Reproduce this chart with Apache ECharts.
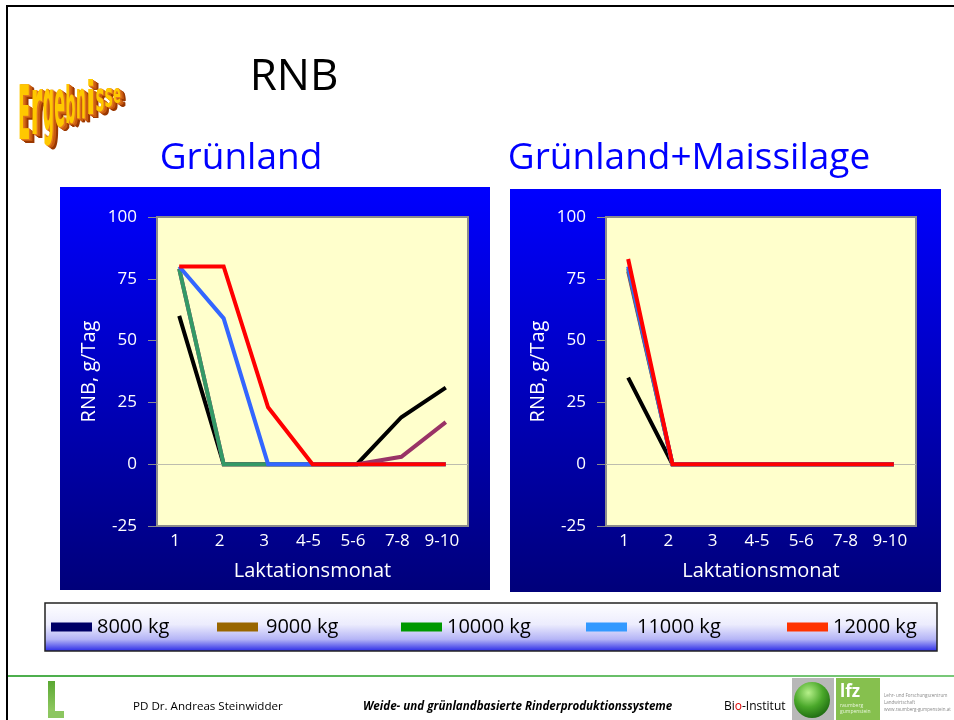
<!DOCTYPE html>
<html><head><meta charset="utf-8">
<script src="https://cdn.jsdelivr.net/npm/echarts@6/dist/echarts.min.js"></script>
<style>html,body{margin:0;padding:0;background:#fff}#c{width:954px;height:720px}</style>
</head><body><div id="c"></div>
<script>
// ---- data ----
const categories = ['1', '2', '3', '4-5', '5-6', '7-8', '9-10'];
const seriesNames = ['8000 kg', '9000 kg', '10000 kg', '11000 kg', '12000 kg'];
const yTickValues = [-25, 0, 25, 50, 75, 100];

const gruenland8000 = [60, 0, 0, 0, 0, 19, 31];
const gruenland9000 = [79, 0, 0, 0, 0, 3, 17];
const gruenland10000 = [79, 0, 0, 0, 0, 0, 0];
const gruenland11000 = [80, 59, 0, 0, 0, 0, 0];
const gruenland12000 = [80, 80, 23, 0, 0, 0, 0];

const mais8000 = [35, 0, 0, 0, 0, 0, 0];
const mais9000 = [78, 0, 0, 0, 0, 0, 0];
const mais10000 = [79, 0, 0, 0, 0, 0, 0];
const mais11000 = [80, 0, 0, 0, 0, 0, 0];
const mais12000 = [83, 0, 0, 0, 0, 0, 0];

const lineColors = ['#000000', '#993366', '#339966', '#3366FF', '#FF0000'];
const legendColors = ['#000066', '#996600', '#009900', '#3399FF', '#FF3300'];

// ---- chart ----
const chart = echarts.init(document.getElementById('c'), null, {renderer: 'canvas', width: 954, height: 720});
const FONT = '"Open Sans", sans-serif';
const yMin = yTickValues[0], yMax = yTickValues[yTickValues.length - 1], yInt = yTickValues[1] - yTickValues[0];

function gridCfg(left, top, width, height) {
  return {left, top, width, height, show: true, backgroundColor: '#FFFFCC', borderColor: '#8c8c8c', borderWidth: 2, containLabel: false};
}
function xAxisCfg(gi) {
  return {
    gridIndex: gi, type: 'category', data: categories, boundaryGap: true,
    axisLine: {show: false}, axisTick: {show: false}, splitLine: {show: false},
    axisLabel: {color: '#fff', fontSize: 17, fontFamily: FONT, margin: 7, interval: 0, hideOverlap: false, padding: [0, 8, 0, 0]},
    name: 'Laktationsmonat', nameLocation: 'middle', nameGap: 35,
    nameTextStyle: {color: '#fff', fontSize: 20, fontFamily: FONT}
  };
}
function yAxisCfg(gi) {
  return {
    gridIndex: gi, type: 'value', min: yMin, max: yMax, interval: yInt,
    axisLine: {show: true, lineStyle: {color: '#8c8c8c', width: 2}},
    axisTick: {show: true, length: 9, lineStyle: {color: '#8c8c8c', width: 1}},
    splitLine: {show: false},
    axisLabel: {color: '#fff', fontSize: 17, fontFamily: FONT, margin: 20},
    name: 'RNB, g/Tag', nameLocation: 'middle', nameGap: 58,
    nameTextStyle: {color: '#fff', fontSize: 20, fontFamily: FONT}
  };
}
function makeSeries(arrs, gi) {
  return arrs.map((d, i) => {
    const s = {
      name: seriesNames[i], type: 'line', xAxisIndex: gi, yAxisIndex: gi, data: d,
      symbol: 'none', z: 3 + i,
      lineStyle: {width: 4, color: lineColors[i], cap: 'butt', join: 'miter'},
      itemStyle: {color: lineColors[i]}
    };
    if (i === 0) {
      s.markLine = {silent: true, symbol: 'none', label: {show: false}, animation: false,
        lineStyle: {color: '#bdbdae', width: 1, type: 'solid'}, data: [{yAxis: 0}]};
    }
    return s;
  });
}

const legendLefts = [51, 217, 401, 586, 787];
const legendPads = [0, 3, 0, 5, 0];
const legends = seriesNames.map((n, i) => ({
  left: legendLefts[i], top: 617, orient: 'horizontal', icon: 'rect', padding: 0,
  itemWidth: 41, itemHeight: 9, selectedMode: false,
  data: [{name: n, icon: 'rect', itemStyle: {color: legendColors[i], borderWidth: 0}}],
  textStyle: {color: '#000', fontSize: 20, fontFamily: FONT, padding: [0, 0, 0, legendPads[i]]}
}));

// decorative "Ergebnisse" word art, letter by letter
const word = 'Ergebnisse';
const ergEls = [];
const mc = document.createElement('canvas').getContext('2d');
const ergFont = 'bold 16px "DejaVu Sans"';
mc.font = ergFont;
let cx = 18;
const letters = [];
for (let i = 0; i < word.length; i++) {
  const t = i / (word.length - 1);
  const w = 12.6 - 4.6 * t;
  const base = 145 - 40 * t;
  const top = 90 - 2 * t;
  const h = base - top;
  const m = mc.measureText(word[i]).width;
  const tall = /[A-Zb]/.test(word[i]);
  const sy = tall ? h / 11.66 : (0.86 * h) / 8.75;
  letters.push({ch: word[i], x: cx, y: base - 5.5 * sy, sx: (w * 0.97) / m, sy: sy});
  cx += w;
}
for (let k = 8; k >= 1; k--) {
  letters.forEach(L => ergEls.push({
    type: 'text', x: L.x + k * 0.7, y: L.y + k * 0.5, scaleX: L.sx, scaleY: L.sy, z: 1,
    style: {text: L.ch, font: ergFont, fill: k > 5 ? '#9a3800' : (k > 2 ? '#c85a10' : '#e0781e'), x: 0, y: 0, verticalAlign: 'middle'}
  }));
}
letters.forEach(L => ergEls.push({
  type: 'text', x: L.x, y: L.y, scaleX: L.sx, scaleY: L.sy, z: 2,
  style: {text: L.ch, font: ergFont, x: 0, y: 0, verticalAlign: 'middle', fill: '#ffc800'}
}));

const panelGrad = {type: 'linear', x: 0, y: 0, x2: 0, y2: 1, colorStops: [{offset: 0, color: '#0000FF'}, {offset: 1, color: '#00007A'}]};

const graphics = [
  // slide frame
  {type: 'line', shape: {x1: 7, y1: 6, x2: 7, y2: 720}, style: {stroke: '#000', lineWidth: 2}, z: -50},
  {type: 'line', shape: {x1: 6, y1: 6, x2: 954, y2: 6}, style: {stroke: '#000', lineWidth: 2}, z: -50},
  // panels
  {type: 'rect', shape: {x: 60, y: 187, width: 430, height: 403}, style: {fill: panelGrad}, z: -100},
  {type: 'rect', shape: {x: 510, y: 189, width: 431, height: 403}, style: {fill: panelGrad}, z: -100},
  // titles
  {type: 'text', x: 294, y: 77, style: {text: 'RNB', font: '44px ' + FONT, fill: '#000', align: 'center', verticalAlign: 'middle'}},
  {type: 'text', x: 241, y: 158, style: {text: 'Grünland', font: '37px ' + FONT, fill: '#0000FF', align: 'center', verticalAlign: 'middle'}},
  {type: 'text', x: 689, y: 158, style: {text: 'Grünland+Maissilage', font: '37px ' + FONT, fill: '#0000FF', align: 'center', verticalAlign: 'middle'}},
  // legend box
  {type: 'rect', shape: {x: 45, y: 603, width: 892, height: 48}, z: -100,
    style: {stroke: '#222', lineWidth: 1.5, fill: {type: 'linear', x: 0, y: 0, x2: 0, y2: 1, colorStops: [
      {offset: 0, color: '#ffffff'}, {offset: 0.45, color: '#ececfd'}, {offset: 0.75, color: '#b4b4f6'}, {offset: 1, color: '#2424e6'}]}}},
  // footer
  {type: 'line', shape: {x1: 8, y1: 676, x2: 954, y2: 676}, style: {stroke: {type: 'linear', x: 0, y: 0, x2: 1, y2: 0, colorStops: [{offset: 0, color: '#4cae4c'}, {offset: 1, color: '#79c879'}]}, lineWidth: 2}},
  {type: 'rect', shape: {x: 48, y: 681, width: 7, height: 37}, style: {fill: {type: 'linear', x: 0, y: 0, x2: 0, y2: 1, colorStops: [{offset: 0, color: '#5aa832'}, {offset: 1, color: '#9ccf6c'}]}}},
  {type: 'rect', shape: {x: 48, y: 711, width: 16, height: 7}, style: {fill: '#8cc660'}},
  {type: 'text', x: 133, y: 707, style: {text: 'PD Dr. Andreas Steinwidder', font: '11.6px ' + FONT, fill: '#000', verticalAlign: 'middle'}},
  {type: 'text', x: 363, y: 707, style: {text: 'Weide- und grünlandbasierte Rinderproduktionssysteme', font: 'italic bold 11.6px ' + FONT, fill: '#000', verticalAlign: 'middle'}},
  {type: 'text', x: 724, y: 707, style: {text: '{a|Bi}{b|o}{a|-Institut}', verticalAlign: 'middle',
    rich: {a: {font: '12px ' + FONT, fill: '#000'}, b: {font: '12px ' + FONT, fill: '#e00000'}}}},
  {type: 'rect', shape: {x: 792, y: 678, width: 42, height: 42}, style: {fill: '#b8b8b8'}},
  {type: 'circle', shape: {cx: 812, cy: 700, r: 18}, style: {fill: {type: 'radial', x: 0.4, y: 0.3, r: 0.8, colorStops: [{offset: 0, color: '#b6f08a'}, {offset: 0.5, color: '#4aa82a'}, {offset: 1, color: '#155e0c'}]}}},
  {type: 'rect', shape: {x: 836, y: 678, width: 44, height: 42}, style: {fill: '#86c04e'}},
  {type: 'text', x: 840, y: 692, style: {text: 'lfz', font: 'bold 17px ' + FONT, fill: '#fff', verticalAlign: 'middle'}},
  {type: 'text', x: 840, y: 709, style: {text: 'raumberg\ngumpenstein', font: '5px ' + FONT, fill: '#e8f5dc', verticalAlign: 'middle', lineHeight: 6}},
  {type: 'text', x: 884, y: 692, style: {text: 'Lehr- und Forschungszentrum\nLandwirtschaft\nwww.raumberg-gumpenstein.at', font: '4.5px ' + FONT, fill: '#8a8a8a', lineHeight: 7}}
].concat(ergEls);

const option = {
  animation: false,
  backgroundColor: '#ffffff',
  grid: [gridCfg(157, 217, 311, 309), gridCfg(606, 217, 310, 309)],
  xAxis: [xAxisCfg(0), xAxisCfg(1)],
  yAxis: [yAxisCfg(0), yAxisCfg(1)],
  legend: legends,
  graphic: {elements: graphics},
  series: makeSeries([gruenland8000, gruenland9000, gruenland10000, gruenland11000, gruenland12000], 0)
    .concat(makeSeries([mais8000, mais9000, mais10000, mais11000, mais12000], 1))
};
chart.setOption(option);
</script>
</body></html>
